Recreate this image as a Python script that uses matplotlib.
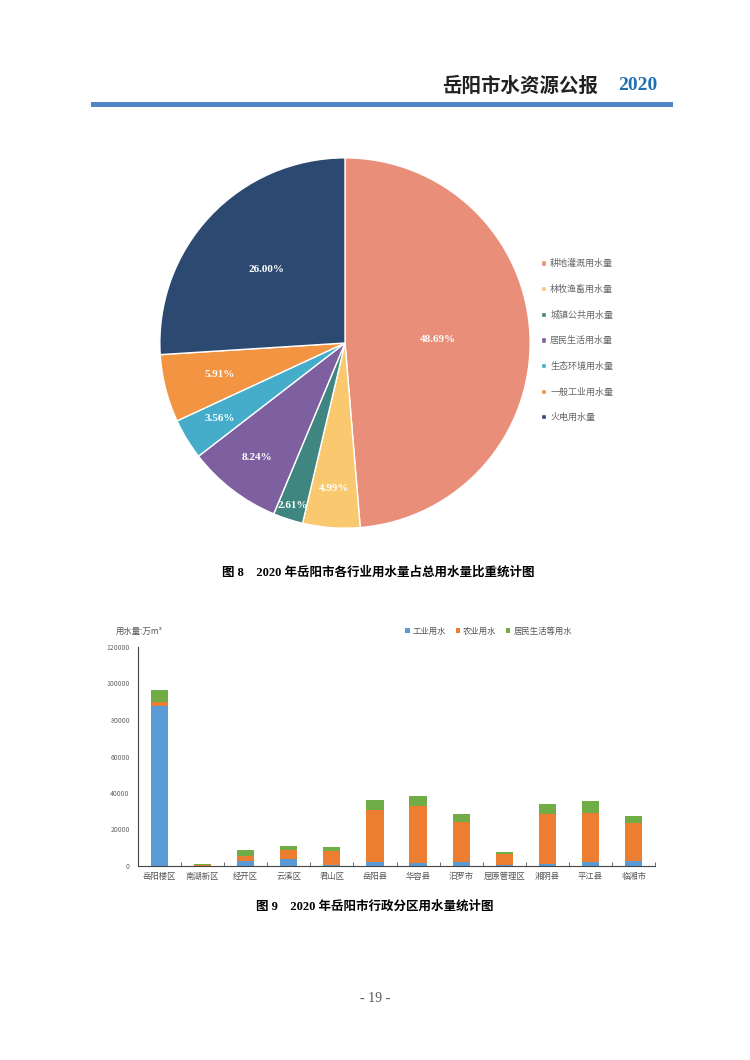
import numpy as np
import matplotlib.pyplot as plt
from matplotlib.lines import Line2D

plt.rcParams['font.family'] = ['Noto Sans CJK SC', 'DejaVu Sans']

# pie data (fig 8)
pie_labels = ['耕地灌溉用水量', '林牧渔畜用水量', '城镇公共用水量', '居民生活用水量',
              '生态环境用水量', '一般工业用水量', '火电用水量']
pie_values = [48.69, 4.99, 2.61, 8.24, 3.56, 5.91, 26.00]
pie_colors = ['#E98E78', '#FAC86F', '#3F8580', '#7E5FA0', '#45ADC9', '#F29441', '#2C4A71']

# bar data (fig 9), 万m3
districts = ['岳阳楼区', '南湖新区', '经开区', '云溪区', '君山区', '岳阳县', '华容县',
             '汨罗市', '屈原管理区', '湘阴县', '平江县', '临湘市']
industry = [87600, 100, 2600, 3700, 500, 2000, 1800, 2400, 400, 1100, 2200, 2600]
agriculture = [2200, 200, 2900, 5100, 7600, 28600, 31300, 21800, 6400, 27300, 26900, 20700]
domestic = [6800, 800, 3300, 2200, 2200, 5500, 5500, 4200, 700, 5500, 6600, 4000]
bar_names = ['工业用水', '农业用水', '居民生活等用水']
bar_colors = ['#5B9BD5', '#ED7D31', '#70AD47']

serif_cjk = ['Liberation Serif', 'Noto Sans CJK SC']

fig = plt.figure(figsize=(7.5, 10.6), dpi=100)
H = 1060.0
W = 750.0

# page header
fig.text(598 / W, 1 - 86 / H, '岳阳市水资源公报', ha='right', va='center',
         fontsize=14, fontweight='bold', color='#222222')
fig.text(657 / W, 1 - 86 / H, '2020', ha='right', va='center', fontsize=14,
         fontweight='bold', color='#1F6FB3', family='Liberation Serif')
fig.add_artist(Line2D([93 / W, 670 / W], [1 - 104 / H, 1 - 104 / H],
                      transform=fig.transFigure, color='#5385C4', linewidth=3.6))

# ---- pie ----
ax1 = fig.add_axes([158 / W, 1 - 530 / H, 374 / W, 374 / H])
wedges, _ = ax1.pie(pie_values, colors=pie_colors, startangle=90, counterclock=False,
                    wedgeprops=dict(edgecolor='white', linewidth=1.0))
ax1.set_aspect('equal')
ax1.set_xlim(-1.01, 1.01)
ax1.set_ylim(-1.01, 1.01)
label_r = [0.5, 0.79, 0.92, 0.78, 0.79, 0.70, 0.58]
for w, v, r in zip(wedges, pie_values, label_r):
    ang = np.deg2rad((w.theta1 + w.theta2) / 2)
    ax1.text(r * np.cos(ang), r * np.sin(ang), f'{v:.2f}%', ha='center', va='center',
             color='white', fontsize=8, fontweight='bold', family='Liberation Serif')

ax1.legend(wedges, pie_labels, loc='upper left', bbox_to_anchor=(533 / W, 1 - 251 / H),
           bbox_transform=fig.transFigure, frameon=False, fontsize=6.5,
           handlelength=0.5, handleheight=0.5, handletextpad=0.5, labelspacing=1.82,
           labelcolor='#666666')

fig.text(378 / W, 1 - 573 / H, '图 8    2020 年岳阳市各行业用水量占总用水量比重统计图',
         ha='center', va='center', fontsize=9, fontweight='bold', family=serif_cjk)

# ---- stacked bars ----
ax2 = fig.add_axes([138 / W, 1 - 866 / H, 517 / W, 219 / H])
x = np.arange(len(districts))
ind = np.array(industry)
agr = np.array(agriculture)
dom = np.array(domestic)
b1 = ax2.bar(x, ind, width=0.4, color=bar_colors[0])
b2 = ax2.bar(x, agr, width=0.4, bottom=ind, color=bar_colors[1])
b3 = ax2.bar(x, dom, width=0.4, bottom=ind + agr, color=bar_colors[2])
ax2.set_xlim(-0.5, len(districts) - 0.5)
ax2.set_ylim(0, 120000)
ax2.set_yticks(np.arange(0, 120001, 20000))
ax2.set_xticks(x)
ax2.set_xticklabels(districts)
ax2.set_xticks(np.arange(-0.5, len(districts)), minor=True)
ax2.tick_params(axis='x', which='major', length=0, labelsize=6, labelcolor='#555555', pad=4)
ax2.tick_params(axis='x', which='minor', length=3, direction='in', color='#555555')
ax2.tick_params(axis='y', length=0, labelsize=5, labelcolor='#666666', pad=6)
for s in ['top', 'right']:
    ax2.spines[s].set_visible(False)
for s in ['left', 'bottom']:
    ax2.spines[s].set_color('#444444')
    ax2.spines[s].set_linewidth(0.8)

fig.text(116 / W, 1 - 631 / H, '用水量:万m³', ha='left', va='center',
         fontsize=6, color='#555555')
ax2.legend([b1, b2, b3], bar_names, loc='center left', bbox_to_anchor=(398 / W, 1 - 631 / H),
           bbox_transform=fig.transFigure, ncol=3, frameon=False, fontsize=6,
           handlelength=0.5, handleheight=0.5, handletextpad=0.4, columnspacing=1.1,
           labelcolor='#555555')

fig.text(375 / W, 1 - 907 / H, '图 9    2020 年岳阳市行政分区用水量统计图',
         ha='center', va='center', fontsize=9, fontweight='bold', family=serif_cjk)

fig.text(375 / W, 1 - 998 / H, '- 19 -', ha='center', va='center', fontsize=10,
         color='#555555', family='Liberation Serif')

fig.savefig('out.png', dpi=100)
